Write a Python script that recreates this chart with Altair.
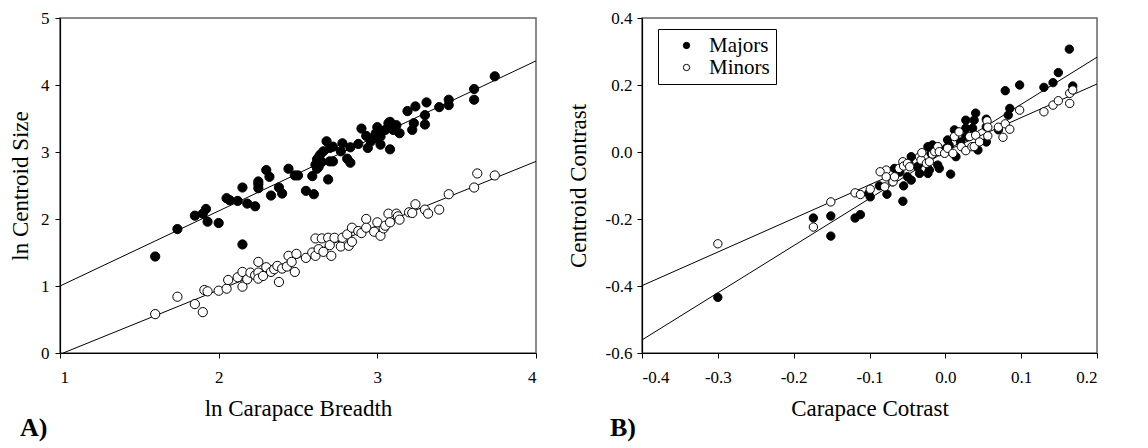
import altair as alt
import pandas as pd

FONT = "Liberation Serif"

# ---------------- Panel A: ln Carapace Breadth vs ln Centroid Size ----------------
maj_a_x = [1.60, 1.74, 1.85, 1.90, 1.92, 1.93, 2.00, 2.05, 2.07, 2.12, 2.15, 2.15, 2.18, 2.23,
           2.25, 2.25, 2.25, 2.30, 2.32, 2.33, 2.38, 2.40, 2.44, 2.48, 2.50, 2.55, 2.60, 2.59,
           2.61, 2.62, 2.62, 2.63, 2.63, 2.64, 2.65, 2.66, 2.68, 2.69, 2.70, 2.70, 2.72, 2.72,
           2.78, 2.77, 2.81, 2.83, 2.83, 2.88, 2.90, 2.93, 2.94, 2.96, 2.98, 2.99, 3.00, 3.02,
           3.02, 3.03, 3.05, 3.07, 3.08, 3.08, 3.10, 3.12, 3.14, 3.19, 3.22, 3.23, 3.24, 3.30,
           3.30, 3.31, 3.39, 3.45, 3.45, 3.61, 3.61, 3.74]
maj_a_y = [1.44, 1.85, 2.05, 2.08, 2.15, 1.96, 1.94, 2.31, 2.28, 2.27, 1.62, 2.47, 2.23, 2.19,
           2.46, 2.52, 2.56, 2.73, 2.63, 2.35, 2.47, 2.38, 2.75, 2.65, 2.65, 2.42, 2.37, 2.64,
           2.81, 2.89, 2.75, 2.78, 2.92, 2.96, 2.85, 3.01, 3.16, 2.59, 3.06, 2.86, 2.86, 3.08,
           3.13, 3.01, 2.90, 2.84, 3.07, 3.12, 3.35, 3.24, 3.06, 3.16, 3.21, 3.28, 3.37, 3.11,
           3.23, 3.31, 3.33, 3.43, 3.45, 3.04, 3.33, 3.40, 3.28, 3.61, 3.33, 3.43, 3.68, 3.55,
           3.41, 3.74, 3.67, 3.78, 3.70, 3.94, 3.78, 4.13]

min_a_x = [1.60, 1.74, 1.85, 1.90, 1.91, 1.93, 2.00, 2.05, 2.06, 2.12, 2.15, 2.15, 2.18, 2.20,
           2.23, 2.25, 2.25, 2.25, 2.28, 2.30, 2.33, 2.35, 2.37, 2.38, 2.40, 2.43, 2.44, 2.46,
           2.48, 2.49, 2.55, 2.59, 2.61, 2.61, 2.63, 2.65, 2.66, 2.69, 2.70, 2.71, 2.73, 2.77,
           2.78, 2.81, 2.82, 2.84, 2.84, 2.88, 2.90, 2.93, 2.93, 2.98, 3.00, 3.02, 3.04, 3.05,
           3.07, 3.08, 3.12, 3.13, 3.14, 3.20, 3.22, 3.24, 3.30, 3.32, 3.39, 3.45, 3.61, 3.63,
           3.74]
min_a_y = [0.58, 0.84, 0.73, 0.61, 0.94, 0.92, 0.93, 0.96, 1.09, 1.13, 1.21, 0.99, 1.10, 1.20,
           1.16, 1.36, 1.20, 1.11, 1.15, 1.28, 1.21, 1.25, 1.30, 1.06, 1.26, 1.29, 1.45, 1.36,
           1.21, 1.48, 1.42, 1.50, 1.45, 1.71, 1.55, 1.71, 1.51, 1.72, 1.61, 1.45, 1.72, 1.59,
           1.72, 1.77, 1.60, 1.87, 1.66, 1.82, 1.79, 2.00, 1.87, 1.81, 1.95, 1.75, 1.86, 1.90,
           2.08, 1.95, 2.08, 2.04, 1.99, 2.10, 2.09, 2.22, 2.14, 2.08, 2.14, 2.37, 2.47, 2.68,
           2.65]

# fitted lines (end points)
fit_a_maj_x = [1.0, 4.0]
fit_a_maj_y = [1.00, 4.36]
fit_a_min_x = [1.02, 4.0]
fit_a_min_y = [0.00, 2.86]

# ---------------- Panel B: Carapace Cotrast vs Centroid Contrast ----------------
maj_b_x = [-0.300, -0.174, -0.151, -0.151, -0.119, -0.112, -0.101, -0.099, -0.087, -0.077,
           -0.056, -0.055, -0.045, -0.067, -0.060, -0.050, -0.045, -0.048, -0.037, -0.034,
           -0.030, -0.021, -0.023, -0.010, -0.008, -0.017, -0.019, -0.023, 0.003, 0.001,
           0.005, 0.007, 0.012, 0.014, 0.020, 0.027, 0.027, 0.027, 0.040, 0.038, 0.036,
           0.043, 0.054, 0.054, 0.054, 0.070, 0.085, 0.083, 0.079, 0.098, 0.130, 0.142,
           0.149, 0.1635, 0.168]
maj_b_y = [-0.434, -0.197, -0.191, -0.251, -0.197, -0.187, -0.124, -0.134, -0.101, -0.126,
           -0.147, -0.101, -0.084, -0.049, -0.060, -0.074, -0.014, -0.034, -0.044, -0.064,
           -0.030, -0.054, -0.064, -0.039, -0.049, 0.021, -0.004, 0.016, 0.036, 0.011,
           0.020, -0.066, 0.066, -0.014, 0.030, 0.071, 0.095, 0.046, 0.116, 0.095, 0.071,
           0.006, 0.098, 0.075, 0.030, 0.066, 0.130, 0.110, 0.183, 0.200, 0.193, 0.207,
           0.237, 0.307, 0.197]

min_b_x = [-0.300, -0.174, -0.151, -0.119, -0.112, -0.099, -0.080, -0.070, -0.078, -0.086,
           -0.078, -0.069, -0.067, -0.061, -0.056, -0.055, -0.050, -0.047, -0.034, -0.032,
           -0.031, -0.025, -0.021, -0.017, -0.014, -0.010, -0.008, -0.001, 0.003, 0.010,
           0.012, 0.018, 0.021, 0.027, 0.032, 0.035, 0.038, 0.040, 0.045, 0.055, 0.056,
           0.056, 0.070, 0.076, 0.079, 0.085, 0.098, 0.130, 0.142, 0.149, 0.164, 0.164, 0.168]
min_b_y = [-0.274, -0.224, -0.149, -0.122, -0.127, -0.111, -0.104, -0.089, -0.054, -0.059,
           -0.074, -0.089, -0.074, -0.049, -0.029, -0.042, -0.034, -0.044, -0.014, -0.024,
           -0.002, -0.034, -0.029, -0.006, 0.001, 0.016, 0.001, -0.004, 0.011, -0.004,
           0.046, 0.060, 0.016, 0.004, 0.046, 0.016, 0.016, 0.050, 0.030, 0.093, 0.074,
           0.048, 0.074, 0.044, 0.084, 0.068, 0.125, 0.120, 0.140, 0.153, 0.175, 0.145, 0.185]

fit_b_maj_x = [-0.4, 0.2]
fit_b_maj_y = [-0.561, 0.283]
fit_b_min_x = [-0.4, 0.2]
fit_b_min_y = [-0.399, 0.203]

groups = ["Majors", "Minors"]
x_ticks_a = [1, 2, 3, 4]
y_ticks_a = [0, 1, 2, 3, 4, 5]
x_ticks_b = [-0.4, -0.3, -0.2, -0.1, 0.0, 0.1, 0.2]
y_ticks_b = [-0.6, -0.4, -0.2, 0.0, 0.2, 0.4]


def points_df(xs_maj, ys_maj, xs_min, ys_min):
    return pd.concat([
        pd.DataFrame({"x": xs_maj, "y": ys_maj, "group": groups[0], "order": 0}),
        pd.DataFrame({"x": xs_min, "y": ys_min, "group": groups[1], "order": 1}),
    ], ignore_index=True)


def lines_df(x1, y1, x2, y2):
    return pd.concat([
        pd.DataFrame({"x": x1, "y": y1, "group": groups[0]}),
        pd.DataFrame({"x": x2, "y": y2, "group": groups[1]}),
    ], ignore_index=True)


pts_a = points_df(maj_a_x, maj_a_y, min_a_x, min_a_y)
pts_b = points_df(maj_b_x, maj_b_y, min_b_x, min_b_y)
fit_a = lines_df(fit_a_maj_x, fit_a_maj_y, fit_a_min_x, fit_a_min_y)
fit_b = lines_df(fit_b_maj_x, fit_b_maj_y, fit_b_min_x, fit_b_min_y)

fmt_b = "datum.value < 0 ? '-' + format(abs(datum.value), '.1f') : format(datum.value, '.1f')"

common_axis = dict(grid=False, ticks=True, tickSize=5, tickColor="black", domainColor="black",
                   domainWidth=1.2, labelColor="black", titleColor="black")

# ---- Panel A ----
xa = alt.X("x:Q", scale=alt.Scale(domain=[1, 4], nice=False, zero=False),
           axis=alt.Axis(values=x_ticks_a, format="d", title="ln Carapace Breadth",
                         labelPadding=11, titlePadding=12, **common_axis))
ya = alt.Y("y:Q", scale=alt.Scale(domain=[0, 5], nice=False, zero=False),
           axis=alt.Axis(values=y_ticks_a, format="d", title="ln Centroid Size",
                         labelPadding=6, titlePadding=8, **common_axis))

fill_scale_a = alt.Scale(domain=groups, range=["black", "white"])

lines_a = alt.Chart(fit_a).mark_line(color="black", strokeWidth=1, clip=True).encode(
    x=xa, y=ya, detail="group:N")
dots_a = alt.Chart(pts_a).mark_circle(size=85, stroke="black", strokeWidth=1, opacity=1).encode(
    x="x:Q", y="y:Q",
    fill=alt.Fill("group:N", scale=fill_scale_a, legend=None),
    order=alt.Order("order:Q"))

panel_a = alt.layer(lines_a, dots_a).properties(
    width=476, height=335,
    title=alt.TitleParams("A)", orient="bottom", anchor="start", frame="group", dx=-40, offset=-5,
                          font=FONT, fontSize=26, fontWeight="bold", color="black"))

# ---- Panel B ----
xb = alt.X("x:Q", scale=alt.Scale(domain=[-0.4, 0.2], nice=False, zero=False),
           axis=alt.Axis(values=x_ticks_b, labelExpr=fmt_b, title="Carapace Cotrast",
                         labelPadding=11, titlePadding=12, **common_axis))
yb = alt.Y("y:Q", scale=alt.Scale(domain=[-0.6, 0.4], nice=False, zero=False),
           axis=alt.Axis(values=y_ticks_b, labelExpr=fmt_b, title="Centroid Contrast",
                         labelPadding=5, titlePadding=15, **common_axis))

fill_scale_b = alt.Scale(domain=groups, range=["black", "white"])

lines_b = alt.Chart(fit_b).mark_line(color="black", strokeWidth=1, clip=True).encode(
    x=xb, y=yb, detail="group:N")
dots_b = alt.Chart(pts_b).mark_circle(size=70, stroke="black", strokeWidth=1, opacity=1).encode(
    x="x:Q", y="y:Q",
    fill=alt.Fill("group:N", scale=fill_scale_b,
                  legend=alt.Legend(title=None, orient="none", legendX=16, legendY=11,
                                    strokeColor="black", fillColor="white", padding=6,
                                    labelFont=FONT, labelFontSize=21, labelColor="black",
                                    symbolType="circle", symbolSize=40,
                                    symbolStrokeColor="black", symbolStrokeWidth=1,
                                    symbolOffset=12, labelOffset=12, rowPadding=0)),
    order=alt.Order("order:Q"))

panel_b = alt.layer(lines_b, dots_b).properties(
    width=455, height=335,
    title=alt.TitleParams("B)", orient="bottom", anchor="start", frame="group", dx=-32, offset=-5,
                          font=FONT, fontSize=26, fontWeight="bold", color="black"))

chart = alt.hconcat(panel_a, panel_b, spacing=28).resolve_scale(
    fill="independent").resolve_legend(fill="independent").properties(
    padding={"left": 0, "top": 0, "right": 0, "bottom": 0}).configure_axis(
    labelFont=FONT, titleFont=FONT, labelFontSize=17, titleFontSize=23,
    titleFontWeight="normal").configure_view(stroke="#666666", strokeWidth=1.5)

chart.save("out.html", embed_options={"renderer": "svg", "actions": False})
